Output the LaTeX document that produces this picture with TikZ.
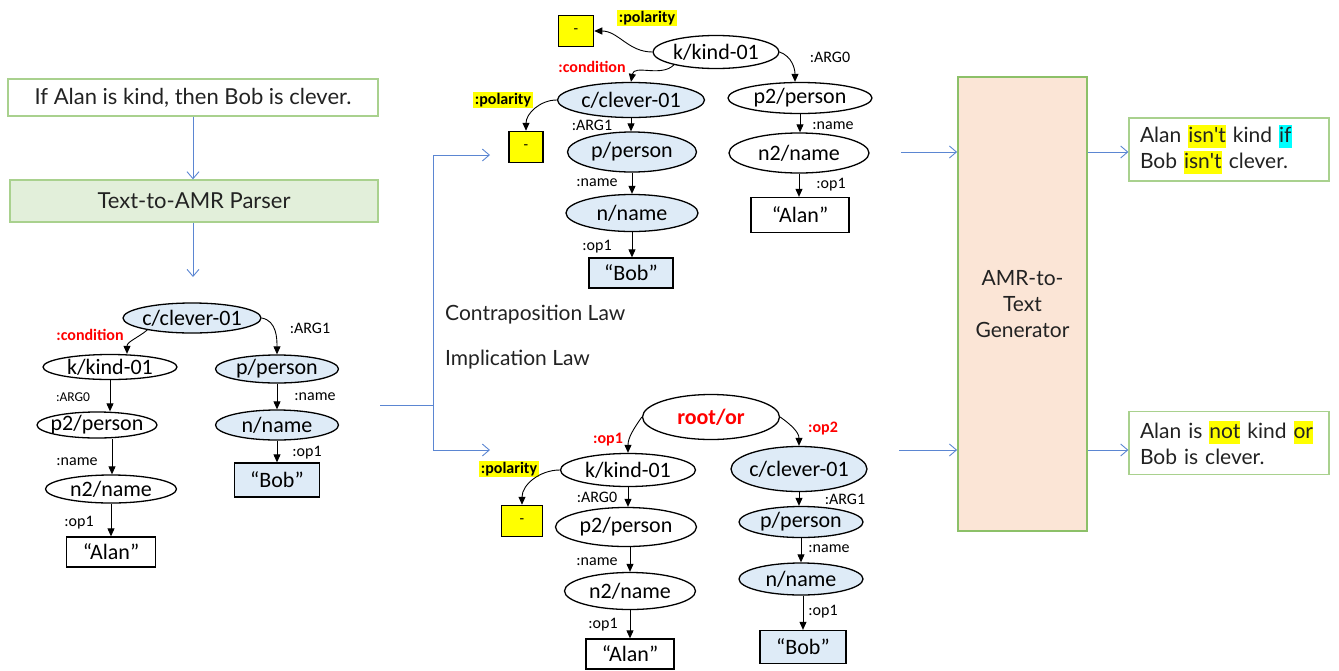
\documentclass[tikz,border=0pt]{standalone}
\usepackage{fontspec}
\setmainfont{Lato}
\newfontfamily\carl{Carlito}
\usetikzlibrary{shapes.geometric,arrows.meta}
\definecolor{flowblue}{HTML}{5B86D2}
\definecolor{boxgreen}{HTML}{A9D18E}
\definecolor{gengreen}{HTML}{8CC068}
\definecolor{parserfill}{HTML}{E2EFDA}
\definecolor{genfill}{HTML}{FBE5D6}
\definecolor{nodeblue}{HTML}{DEEBF7}
\definecolor{hlyellow}{HTML}{FFFF00}
\definecolor{hlcyan}{HTML}{00FFFF}
\definecolor{amrred}{HTML}{FF0000}
\definecolor{txtdark}{HTML}{222222}
\newcommand{\hlt}[2]{{\setlength{\fboxsep}{0pt}\colorbox{#1}{\rule[-6pt]{0pt}{23pt}#2}}}
\begin{document}
\begin{tikzpicture}[x=1pt,y=-1pt,
  wh/.style 2 args={minimum width=#1pt, minimum height=#2pt},
  amrw/.style={ellipse, draw, line width=1.3pt, inner xsep=-12pt, inner ysep=-6pt, fill=white, font=\carl\fontsize{22}{26}\selectfont},
  amrb/.style={amrw, fill=nodeblue},
  boxw/.style={rectangle, draw, line width=1.3pt, inner sep=0pt, fill=white, font=\carl\fontsize{22}{26}\selectfont},
  boxb/.style={boxw, fill=nodeblue},
  ybox/.style={rectangle, draw, line width=1.5pt, inner sep=0pt, fill=hlyellow, font=\carl\fontsize{15}{18}\selectfont},
  lbl/.style={inner sep=0pt, font=\carl\fontsize{16}{19}\selectfont},
  redlbl/.style={inner sep=0pt, text=amrred, font=\carl\bfseries\fontsize{16}{19}\selectfont},
  pol/.style={inner sep=1.5pt, fill=hlyellow, font=\carl\bfseries\fontsize{16}{19}\selectfont},
  amredge/.style={-{Triangle[length=8pt,width=7pt]}, line width=0.9pt},
  flowline/.style={draw=flowblue, line width=0.9pt},
  flow/.style={flowline, -{Straight Barb[length=7pt,width=12pt,line width=0.9pt]}},
  sent/.style={text=txtdark, font=\fontsize{22}{26}\selectfont},
  outbox/.style={rectangle, draw=boxgreen, line width=1.3pt, fill=white, inner xsep=11pt, inner ysep=0pt, text width=178pt, align=left, minimum height=63pt, text=txtdark, font=\fontsize{21}{26}\selectfont}
]
\useasboundingbox (0,0) rectangle (1339,670);

% ---------------- left part ----------------
\node[sent, rectangle, draw=boxgreen, line width=1.3pt, wh={370}{37}, inner sep=0pt] (input) at (193,97.5) {If Alan is kind, then Bob is clever.};
\node[sent, rectangle, draw=boxgreen, fill=parserfill, line width=1.3pt, wh={368}{42}, inner sep=0pt] (parser) at (194,201) {Text-to-AMR Parser};
\coordinate (parserout) at (193,277);
\draw[flow] (input.south) -- (input.south |- parser.north);
\draw[flow] (parser.south -| input.south) -- (parserout);

\node[amrb, wh={138}{30}] (cL) at (192,318) {c/clever-01};
\node[amrw, wh={134}{25}] (kL) at (110,367) {k/kind-01};
\node[amrw, wh={120}{26}] (p2L) at (97,425) {p2/person};
\node[amrw, wh={131}{28}] (n2L) at (111,489) {n2/name};
\node[boxw, wh={89}{30}] (alanL) at (111,552) {“Alan”};
\node[amrb, wh={123}{28}] (pL) at (277,369) {p/person};
\node[amrb, wh={123}{30}] (nL) at (277,425) {n/name};
\node[boxb, wh={85}{34}] (bobL) at (277,480) {“Bob”};

\draw[amredge] (cL.195) to[out=220, in=90] ([xshift=17pt]kL.north);
\draw[amredge] (cL.east) to[out=-10, in=90] (pL.north);
\draw[amredge] (kL.south) -- (kL.south |- p2L.north);
\draw[amredge] ([xshift=15pt]p2L.south) -- ([xshift=15pt]p2L.south |- n2L.north);
\draw[amredge] (n2L.south) -- (n2L.south |- alanL.north);
\draw[amredge] (pL.south) -- (nL.north);
\draw[amredge] (nL.south) -- (bobL.north);

\node[redlbl] (lcondL) at (90,335) {:condition};
\node[lbl, font=\carl\fontsize{13.5}{16}\selectfont] (largL) at (73,397) {:ARG0};
\node[lbl] (lnameL) at (77,462) {:name};
\node[lbl] (lopL) at (79,523) {:op1};
\node[lbl] (larg1L) at (310,328) {:ARG1};
\node[lbl] (lname2L) at (315,397) {:name};
\node[lbl] (lop2L) at (307,453) {:op1};

% ---------------- split connector ----------------
\coordinate (j0) at (380,405);
\coordinate (j1) at (433,405);
\coordinate (tT) at (490,155);
\coordinate (tB) at (490,450);
\draw[flowline] (j0) -- (j1);
\draw[flow] (j1) |- (tT);
\draw[flow] (j1) |- (tB);

\node[sent, anchor=west, inner sep=0pt, font=\fontsize{21}{25}\selectfont] (contra) at (445,315) {Contraposition Law};
\node[sent, anchor=west, inner sep=0pt, font=\fontsize{21}{25}\selectfont] (impl) at (445,360) {Implication Law};

% ---------------- top middle graph ----------------
\node[ybox, wh={35}{31}] (m1) at (576,31) {-};
\node[pol] (pol1) at (647,18) {:polarity};
\node[amrw, wh={126}{33}] (kT) at (716,52) {k/kind-01};
\node[amrb, wh={147}{35}] (cT) at (631,100) {c/clever-01};
\node[amrw, wh={144}{31}] (p2T) at (800,98) {p2/person};
\node[pol] (pol2) at (503,100) {:polarity};
\node[ybox, wh={34}{31}] (m2) at (526,147) {-};
\node[amrb, wh={129}{40}] (pT) at (632,152) {p/person};
\node[amrb, wh={132}{37}] (nT) at (632,213) {n/name};
\node[boxb, wh={84}{30}] (bobT) at (631,273) {“Bob”};
\node[amrw, wh={140}{40}] (n2T) at (799,153) {n2/name};
\node[boxw, wh={98}{35}] (alanT) at (800,215) {“Alan”};

\draw[amredge] (kT.west) to[out=180, in=0] (m1.east);
\draw[amredge] (kT.197) to[out=225, in=80] (cT.north);
\draw[amredge] (kT.east) to[out=-20, in=90] ([xshift=-5pt]p2T.north);
\draw[amredge] (cT.west) to[out=180, in=90] (m2.north);
\draw[amredge] (cT.south) -- (cT.south |- pT.north);
\draw[amredge] (pT.south) -- (nT.north);
\draw[amredge] (nT.south) -- (nT.south |- bobT.north);
\draw[amredge] (p2T.south) -- (p2T.south |- n2T.north);
\draw[amredge] (n2T.south) -- (n2T.south |- alanT.north);

\node[redlbl] (lcondT) at (592,67) {:condition};
\node[lbl] (larg0T) at (830,57) {:ARG0};
\node[lbl] (larg1T) at (592,125) {:ARG1};
\node[lbl] (lnameT) at (597,183) {:name};
\node[lbl] (lopT) at (597,247) {:op1};
\node[lbl] (lname2T) at (833,126) {:name};
\node[lbl] (lop2T) at (831,185) {:op1};

% ---------------- bottom middle graph ----------------
\node[amrw, wh={137}{45}, text=amrred, font=\carl\bfseries\fontsize{22}{26}\selectfont] (rootB) at (711,417) {root/or};
\node[amrw, wh={135}{33}] (kB) at (628,470) {k/kind-01};
\node[pol] (pol3) at (509,469) {:polarity};
\node[ybox, wh={41}{31}] (m3) at (522,521) {-};
\node[amrw, wh={141}{39}] (p2B) at (626,527) {p2/person};
\node[amrw, wh={131}{37}] (n2B) at (630,591) {n2/name};
\node[boxw, wh={88}{30}] (alanB) at (630,654) {“Alan”};
\node[amrb, wh={136}{45}] (cB) at (799,469) {c/clever-01};
\node[amrb, wh={124}{31}] (pB) at (801,522) {p/person};
\node[amrb, wh={124}{32}] (nB) at (801,579) {n/name};
\node[boxb, wh={86}{33}] (bobB) at (803,647) {“Bob”};

\draw[amredge] (rootB.west) to[out=235, in=90] (kB.north);
\draw[amredge] (rootB.east) to[out=-35, in=90] (cB.north);
\draw[amredge] (kB.west) to[out=180, in=90] (m3.north);
\draw[amredge] (kB.south) -- (kB.south |- p2B.north);
\draw[amredge] (n2B.north |- p2B.south) -- (n2B.north);
\draw[amredge] (n2B.south) -- (alanB.north);
\draw[amredge] (cB.south) -- (cB.south |- pB.north);
\draw[amredge] (pB.south) -- (nB.north);
\draw[amredge] (bobB.north |- nB.south) -- (bobB.north);

\node[redlbl] (lop1B) at (608,440) {:op1};
\node[redlbl] (lop2B) at (823,429) {:op2};
\node[lbl] (larg0B) at (597,497) {:ARG0};
\node[lbl] (lnameB) at (597,562) {:name};
\node[lbl] (lopB) at (603,625) {:op1};
\node[lbl] (larg1B) at (845,499) {:ARG1};
\node[lbl] (lname2B) at (829,549) {:name};
\node[lbl] (lop2bB) at (823,612) {:op1};

% ---------------- right part ----------------
\node[rectangle, draw=gengreen, fill=genfill, line width=1.8pt, wh={129}{454}, inner sep=0pt, align=center, text=txtdark, font=\fontsize{21}{26}\selectfont] (gen) at (1022.5,304) {AMR-to-\\Text\\Generator};
\coordinate (gT) at (901,152);
\coordinate (gB) at (899,450);
\draw[flow] (gT) -- (gen.west |- gT);
\draw[flow] (gB) -- (gen.west |- gB);

\node[outbox] (out1) at (1229,149.5) {Alan \hlt{hlyellow}{isn\textquotesingle t} kind \hlt{hlcyan}{if}\\Bob \hlt{hlyellow}{isn\textquotesingle t} clever.};
\node[outbox] (out2) at (1229,443) {Alan is \hlt{hlyellow}{not} kind \hlt{hlyellow}{or}\\Bob is clever.};
\draw[flow] (gen.east |- gT) -- (out1.west |- gT);
\draw[flow] (gen.east |- gB) -- (out2.west |- gB);
\end{tikzpicture}
\end{document}
